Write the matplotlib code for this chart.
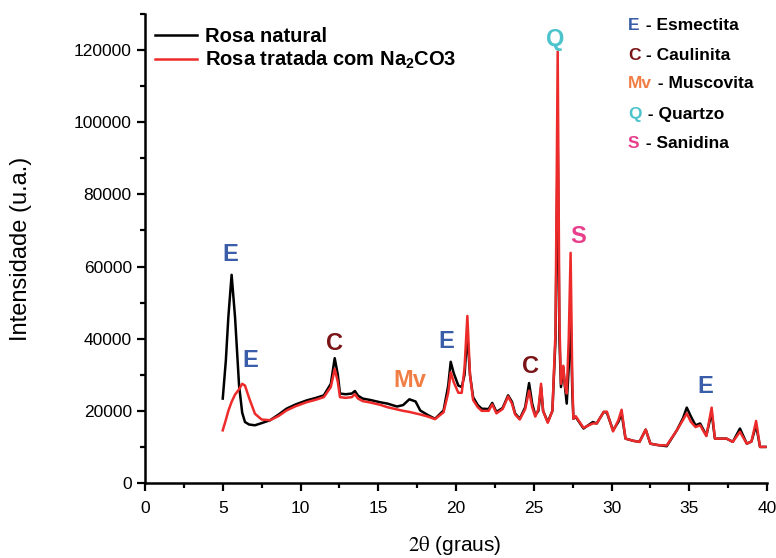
import matplotlib
matplotlib.use('Agg')
import matplotlib.pyplot as plt
from matplotlib.ticker import MultipleLocator

plt.rcParams['font.family'] = ['Liberation Sans', 'DejaVu Sans']
plt.rcParams['mathtext.fontset'] = 'custom'
plt.rcParams['mathtext.rm'] = 'Liberation Sans:bold'
plt.rcParams['mathtext.bf'] = 'Liberation Sans:bold'
plt.rcParams['mathtext.it'] = 'Liberation Sans:bold:italic'

# 2theta (graus)
theta = [5.0, 5.2, 5.36, 5.57, 5.79, 6.05, 6.25, 6.43, 6.7, 7.07, 7.5, 8.04, 8.6, 9.1, 9.7,
         10.4, 11.0, 11.5, 11.95, 12.2, 12.4, 12.54, 12.9, 13.3, 13.5, 13.7, 14.0, 14.5,
         15.1, 15.6, 16.2, 16.6, 17.0, 17.4, 17.7, 18.2, 18.65, 19.2, 19.5, 19.66, 19.85,
         20.15, 20.37, 20.55, 20.73, 20.9, 21.1, 21.4, 21.65, 22.1, 22.33, 22.6, 23.0,
         23.35, 23.6, 23.8, 24.1, 24.45, 24.7, 24.9, 25.1, 25.3, 25.47, 25.6, 25.9, 26.2,
         26.4, 26.54, 26.65, 26.75, 26.9, 27.0, 27.12, 27.25, 27.37, 27.48, 27.55, 27.7,
         28.2, 28.8, 29.05, 29.5, 29.7, 30.1, 30.45, 30.65, 30.9, 31.4, 31.8, 32.2, 32.5,
         33.0, 33.55, 34.2, 34.6, 34.84, 35.1, 35.4, 35.7, 36.1, 36.44, 36.65, 37.0, 37.4,
         37.8, 38.26, 38.7, 39.0, 39.3, 39.55, 39.9]

natural = [23400, 34000, 46000, 57700, 46000, 27000, 19500, 16900, 16200, 16000, 16600,
           17400, 19000, 20600, 21800, 22900, 23600, 24300, 27500, 34600, 30000, 24800,
           24600, 24800, 25500, 24200, 23400, 23000, 22400, 22000, 21200, 21600, 23200,
           22600, 20100, 18800, 17800, 20100, 27000, 33600, 30500, 27000, 26600, 30000,
           41300, 30000, 23800, 21600, 20600, 20500, 22200, 19700, 20800, 24300, 22500,
           19300, 17800, 21000, 27700, 22000, 18800, 20000, 26500, 20000, 16900, 20000,
           40000, 95000, 40000, 26600, 32100, 27000, 22000, 32000, 47700, 25000, 17800,
           18300, 15100, 16900, 16500, 19700, 19500, 14600, 17000, 19300, 12300, 11700,
           11400, 14800, 10900, 10500, 10200, 14600, 18000, 20900, 18500, 16000, 16500,
           13200, 19500, 12300, 12300, 12300, 11400, 15100, 10900, 11500, 16000, 10000,
           10000]

tratada = [14600, 17500, 20000, 22500, 24500, 26000, 27500, 27000, 23500, 19200, 17600,
           17400, 18600, 20100, 21300, 22400, 23100, 23800, 26600, 31600, 28000, 23800,
           23600, 23800, 24600, 23400, 22700, 22300, 21700, 21000, 20400, 20000, 19700,
           19300, 19000, 18400, 17700, 19600, 25000, 30700, 28000, 25000, 25000, 32000,
           46300, 30000, 23000, 21000, 20000, 20000, 21800, 19300, 20500, 24000, 22000,
           19000, 17600, 20500, 25600, 21000, 18400, 20500, 27500, 20000, 16700, 20000,
           42000, 119600, 45000, 27500, 32500, 27000, 24800, 40000, 63800, 28000, 17800,
           18500, 15300, 16500, 16500, 19700, 19800, 14300, 17500, 20300, 12300, 11700,
           11400, 14800, 10900, 10500, 10400, 14600, 17500, 19300, 17000, 15500, 16000,
           13000, 20900, 12300, 12300, 12300, 11400, 14200, 10900, 11500, 17200, 10000,
           10000]

# rótulos dos picos
peak_labels = ['E', 'E', 'C', 'Mv', 'E', 'C', 'Q', 'S', 'E']
peak_x = [5.47, 6.75, 12.2, 17.05, 19.36, 24.8, 26.37, 27.85, 36.0]
peak_y = [63200, 33900, 38600, 28400, 39200, 32300, 122800, 68400, 26800]

colors = {'E': '#3a5daa', 'C': '#7b1416', 'Mv': '#f07e44', 'Q': '#4dc4cc', 'S': '#e83e8c'}

key_letters = ['E', 'C', 'Mv', 'Q', 'S']
key_names = [' - Esmectita', '- Caulinita', ' - Muscovita', ' - Quartzo', ' - Sanidina']

fig = plt.figure(figsize=(7.76, 5.58), dpi=100)
ax = fig.add_axes([145/776, 75/558, 622/776, 469/558])

ax.plot(theta, natural, c='black', linewidth=1.8, label='Rosa natural')
ax.plot(theta, tratada, c='#ee2b2b', linewidth=1.8, label='Rosa tratada com Na$_2$CO3')

for lab, px, py in zip(peak_labels, peak_x, peak_y):
    ax.text(px, py, lab, color=colors[lab], fontsize=17, fontweight='bold',
            ha='center', va='center')

# legenda das fases
key_y = [26, 55, 84, 115, 144]
key_dx = [645, 650, 657, 647, 645]
for lab, name, yy, xx in zip(key_letters, key_names, key_y, key_dx):
    fig.text(628/776, 1 - yy/558, lab, color=colors[lab], fontsize=12.5,
             fontweight='bold', va='center')
    fig.text((xx - 4)/776, 1 - yy/558, name, color='black', fontsize=12.5,
             fontweight='bold', va='center')

ax.set_xlim(0, 40)
ax.set_ylim(0, 130000)
ax.xaxis.set_major_locator(MultipleLocator(5))
ax.xaxis.set_minor_locator(MultipleLocator(2.5))
ax.yaxis.set_major_locator(MultipleLocator(20000))
ax.yaxis.set_minor_locator(MultipleLocator(10000))

for s in ['top', 'right']:
    ax.spines[s].set_visible(False)
for s in ['left', 'bottom']:
    ax.spines[s].set_linewidth(1.8)

ax.tick_params(which='major', direction='out', length=6, width=1.6)
ax.tick_params(which='minor', direction='out', length=3.5, width=1.6)
ax.tick_params(axis='y', labelsize=12.5)
ax.tick_params(axis='x', labelsize=12.5, pad=7)

ax.set_xlabel(r'$\mathrm{2\theta}$ (graus)', fontsize=15, math_fontfamily='stix')
ax.xaxis.set_label_coords(0.498, -0.108)
ax.set_ylabel('Intensidade (u.a.)', fontsize=17)
ax.yaxis.set_label_coords(-0.182, 0.5)

ax.legend(loc='upper left', bbox_to_anchor=(0.016, 0.972), frameon=False,
          prop={'weight': 'bold', 'size': 14.5}, handlelength=2.1,
          handletextpad=0.4, labelspacing=0.12, borderpad=0, borderaxespad=0)

fig.savefig('out.png', dpi=100)
